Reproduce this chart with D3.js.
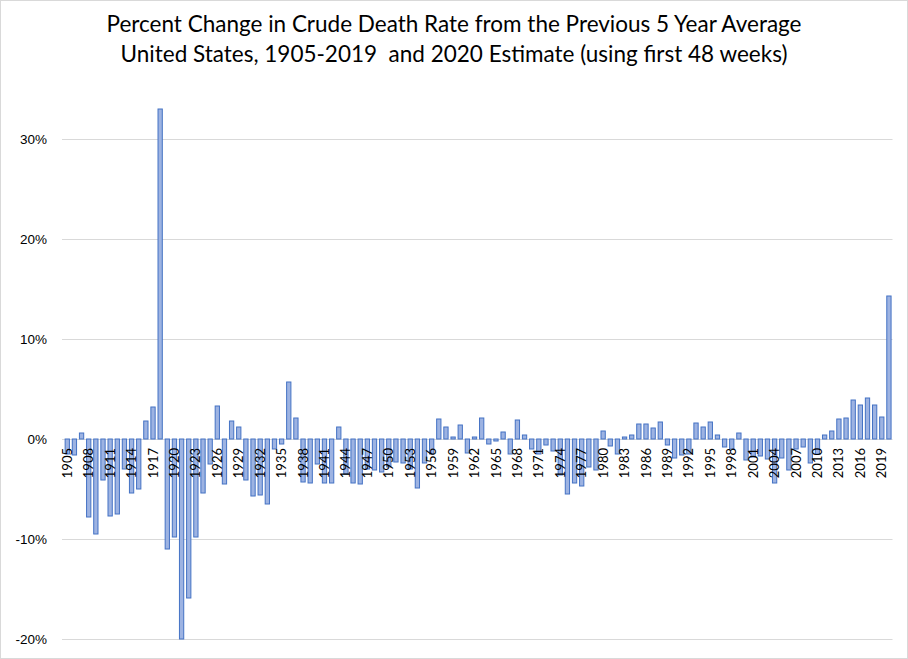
<!DOCTYPE html>
<html><head><meta charset="utf-8">
<script src="https://cdn.jsdelivr.net/npm/d3@7"></script>
<style>
html,body{margin:0;padding:0;background:#fff;}
svg{display:block;font-family:Lato,"Liberation Sans",Arial,sans-serif;}
</style></head>
<body>
<svg id="chart" width="908" height="659"></svg>
<script>
const titleLines = [
  "Percent Change in Crude Death Rate from the Previous 5 Year Average",
  "United States, 1905-2019  and 2020 Estimate (using first 48 weeks)"
];
const years = d3.range(1905, 2021);
const values = [
  -1.5,-1.6,0.6,-7.8,-9.5,-4.1,-7.7,-7.5,-3.0,-5.4,
  -5.0,1.8,3.2,33.0,-11.0,-9.8,-20.0,-15.9,-9.8,-5.4,
  -2.5,3.3,-4.5,1.8,1.2,-4.1,-5.7,-5.6,-6.5,-1.0,
  -0.5,5.7,2.1,-4.3,-4.4,-2.5,-4.4,-4.4,1.2,-3.5,
  -4.4,-4.5,-3.0,-3.1,-3.3,-2.8,-2.3,-2.4,-3.0,-4.9,
  -2.4,-1.5,2.0,1.2,0.2,1.4,-1.4,0.2,2.1,-0.5,
  -0.2,0.7,-1.5,1.9,0.4,-1.0,-1.5,-0.6,-1.2,-3.6,
  -5.5,-4.4,-4.7,-2.8,-3.1,0.8,-0.7,-1.5,0.2,0.4,
  1.5,1.5,1.1,1.7,-0.6,-1.9,-1.6,-1.5,1.6,1.2,
  1.7,0.4,-0.8,-1.0,0.6,-2.1,-1.8,-1.7,-2.0,-4.4,
  -1.9,-3.1,-1.0,-0.8,-2.4,-1.5,0.4,0.8,2.0,2.1,
  3.9,3.4,4.1,3.4,2.2,14.3
];
const yTicks = [-20, -10, 0, 10, 20, 30];
const labelYears = years.filter(y => (y - 1905) % 3 === 0);

const data = years.map((y, i) => ({year: y, value: values[i]}));
const svg = d3.select("#chart");

svg.append("rect").attr("x",0.5).attr("y",0.5).attr("width",907).attr("height",658)
  .attr("fill","#fff").attr("stroke","#d9d9d9");

const x = d3.scaleBand().domain(years).range([63.7, 892.5]).paddingInner(0.4).paddingOuter(0.2);
const y = d3.scaleLinear().domain([-20, 30]).range([639, 139]);

// gridlines
const yAxis = d3.axisLeft(y).tickValues(yTicks).tickFormat(d => d + "%").tickSize(-(892.5 - 62)).tickPadding(14);
const gy = svg.append("g").attr("transform", "translate(62,0)").call(yAxis);
gy.select(".domain").remove();
gy.selectAll(".tick line").attr("stroke", "#d9d9d9").attr("stroke-width", 1);
gy.selectAll(".tick text").attr("font-size", 13.5).attr("fill", "#000").attr("x", -15);

// bars
svg.append("g").selectAll("rect").data(data).join("rect")
  .attr("x", d => x(d.year))
  .attr("width", x.bandwidth())
  .attr("y", d => y(Math.max(0, d.value)))
  .attr("height", d => Math.abs(y(d.value) - y(0)))
  .attr("fill", "#9db3e2")
  .attr("stroke", "#4472c4")
  .attr("stroke-width", 1);

// x labels
svg.append("g").selectAll("text").data(labelYears).join("text")
  .attr("transform", d => `translate(${x(d) + x.bandwidth()/2},448) rotate(-90)`)
  .attr("text-anchor", "end")
  .attr("dy", "0.35em")
  .attr("font-size", 13)
  .attr("fill", "#000")
  .text(d => d);

// title
svg.append("g").selectAll("text").data(titleLines).join("text")
  .attr("x", 454)
  .attr("y", (d, i) => 32 + i * 30)
  .attr("text-anchor", "middle")
  .attr("font-size", 22.5)
  .attr("fill", "#000")
  .style("white-space", "pre")
  .text(d => d);
</script>
</body></html>
